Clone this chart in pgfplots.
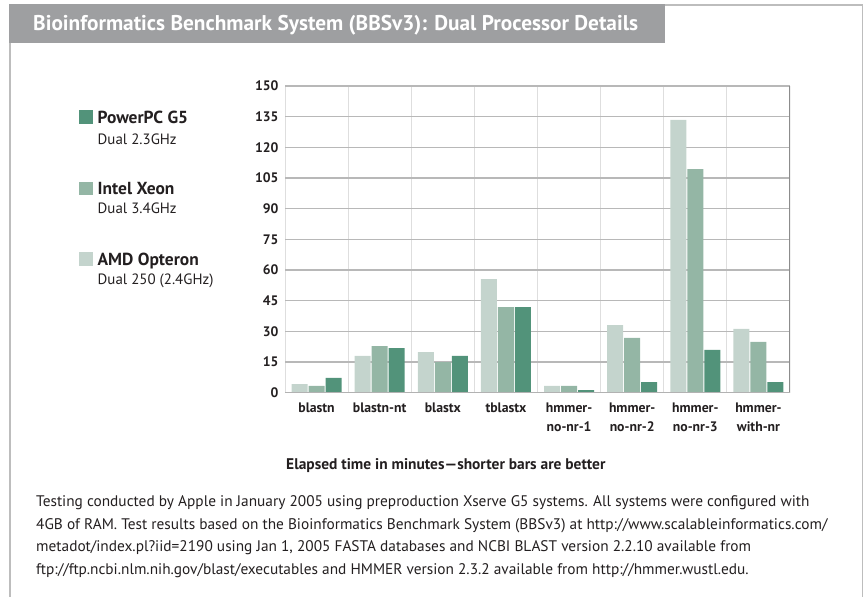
\documentclass[border=0pt]{standalone}
\usepackage{fontspec}
\setmainfont{PT Sans}
\usepackage{pgfplots}
\pgfplotsset{compat=1.18}
\definecolor{ppc}{HTML}{52937A}
\definecolor{xeon}{HTML}{94B6A5}
\definecolor{amd}{HTML}{C4D4CD}
\definecolor{band}{HTML}{9E9FA1}
\definecolor{framec}{HTML}{BDBDBD}
\definecolor{txt}{HTML}{231F20}
\begin{document}
\begin{tikzpicture}[x=1bp,y=1bp]
\useasboundingbox (0,0) rectangle (864,597);
% frame
\draw[framec, line width=1.5bp] (9,592) -- (863,592);
\draw[framec, line width=1.2bp] (10,554) -- (10,0);
\draw[framec, line width=1.2bp] (862.5,592.5) -- (862.5,0);
\fill[band] (9,592.8) rectangle (665,554);
\node[anchor=base west, inner sep=0, text=white, font=\fontsize{21.4}{24}\selectfont\bfseries] at (33,566.3) {Bioinformatics Benchmark System (BBSv3): Dual Processor Details};

\begin{axis}[
  at={(285bp,204.3bp)}, anchor=south west,
  scale only axis, width=505bp, height=306.7bp,
  xmin=-0.5, xmax=7.5, ymin=0, ymax=150,
  ybar=1bp, bar width=16bp,
  ytick={0,15,...,150},
  xtick={0,...,7},
  xticklabels={blastn,blastn-nt,blastx,tblastx,{hmmer-\\no-nr-1},{hmmer-\\no-nr-2},{hmmer-\\no-nr-3},{hmmer-\\with-nr}},
  minor xtick={-0.5,0.5,...,6.5},
  xminorgrids, ymajorgrids,
  minor grid style={draw=black!13, line width=1bp},
  major grid style={draw=black!28, line width=1.3bp},
  major tick length=0, minor tick length=0,
  axis line style={draw=none},
  tick label style={font=\fontsize{13.8}{18.5}\selectfont\bfseries, text=txt},
  xticklabel style={align=center, anchor=north, yshift=-7bp},
  yticklabel style={anchor=east, xshift=-3bp},
  /pgf/number format/assume math mode=true,
]
\addplot[fill=amd, draw=none] coordinates {(0,4.2) (1,18) (2,19.9) (3,55.6) (4,3.3) (5,33.1) (6,133.4) (7,31.2)};
\addplot[fill=xeon, draw=none] coordinates {(0,3.3) (1,22.8) (2,15) (3,41.9) (4,3.3) (5,26.8) (6,109.4) (7,24.8)};
\addplot[fill=ppc, draw=none] coordinates {(0,7.2) (1,21.8) (2,18) (3,41.9) (4,1.3) (5,5.2) (6,20.9) (7,5.2)};
\draw[black!45, line width=1.2bp] (rel axis cs:1,0) -- (rel axis cs:1,1);
\draw[black!30, line width=1.8bp] (rel axis cs:0,0) -- (rel axis cs:1,0);
\end{axis}

% legend
\fill[ppc] (79,473.3) rectangle ++(14,13.5);
\node[anchor=base west, inner sep=0, text=txt, font=\fontsize{17.5}{20}\selectfont\bfseries] at (97.5,473.3) {PowerPC G5};
\node[anchor=base west, inner sep=0, text=txt, font=\fontsize{15}{18}\selectfont] at (97.5,452.7) {Dual 2.3GHz};
\fill[xeon] (79,401.5) rectangle ++(14,13.5);
\node[anchor=base west, inner sep=0, text=txt, font=\fontsize{17.5}{20}\selectfont\bfseries] at (97.5,402) {Intel Xeon};
\node[anchor=base west, inner sep=0, text=txt, font=\fontsize{15}{18}\selectfont] at (97.5,383) {Dual 3.4GHz};
\fill[amd] (79,331.3) rectangle ++(14,13.5);
\node[anchor=base west, inner sep=0, text=txt, font=\fontsize{17.5}{20}\selectfont\bfseries] at (97.5,331) {AMD Opteron};
\node[anchor=base west, inner sep=0, text=txt, font=\fontsize{15}{18}\selectfont] at (97.5,312) {Dual 250 (2.4GHz)};

% caption
\node[anchor=base west, inner sep=0, text=txt, font=\fontsize{15.5}{18}\selectfont\bfseries] at (286,127) {Elapsed time in minutes---shorter bars are better};

% footnote
\begin{scope}[every node/.style={anchor=base west, inner sep=0, text=txt, font=\fontsize{15.4}{18}\selectfont}]
\node at (36,90) {Testing conducted by Apple in January 2005 using preproduction Xserve G5 systems. All systems were configured with};
\node at (36,67.5) {4GB of RAM. Test results based on the Bioinformatics Benchmark System (BBSv3) at http://www.scalableinformatics.com/};
\node at (36,45) {metadot/index.pl?iid=2190 using Jan 1, 2005 FASTA databases and NCBI BLAST version 2.2.10 available from};
\node at (36,22.5) {ftp://ftp.ncbi.nlm.nih.gov/blast/executables and HMMER version 2.3.2 available from http://hmmer.wustl.edu.};
\end{scope}
\end{tikzpicture}
\end{document}
